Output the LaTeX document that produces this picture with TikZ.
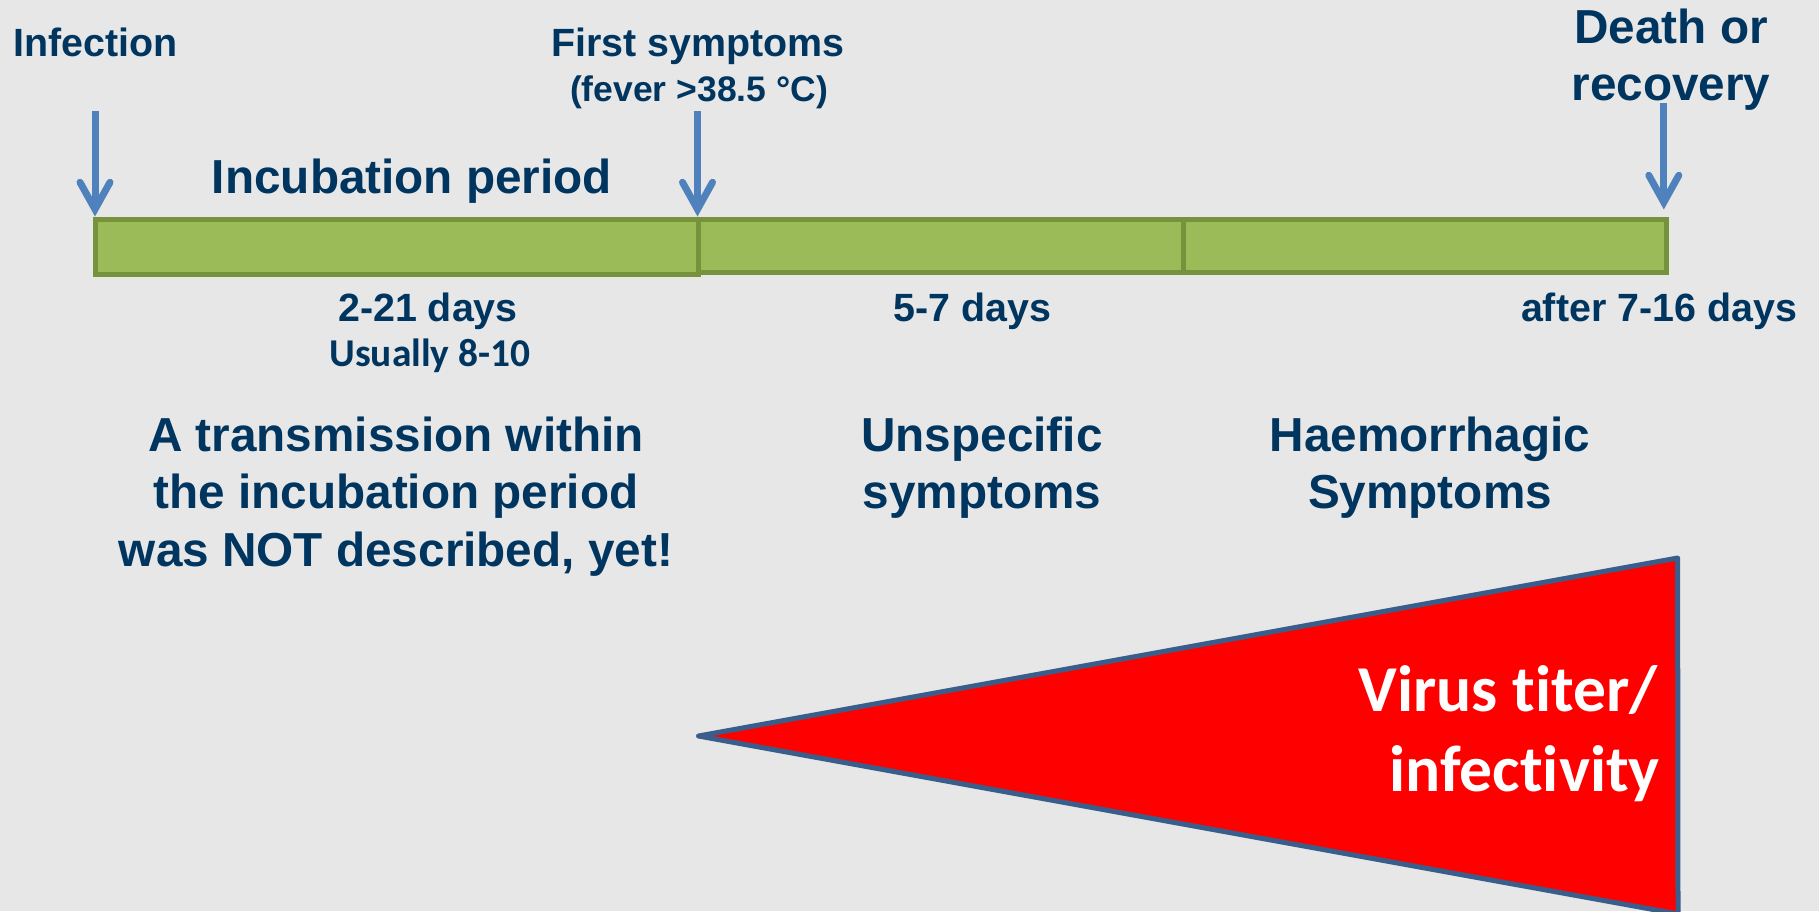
\documentclass[tikz,border=0pt]{standalone}
\usepackage{fontspec}
\setmainfont{Liberation Sans}
\newfontfamily\carlitofont{Carlito}[Ligatures={NoCommon,NoRare,NoDiscretionary}]
\usetikzlibrary{arrows.meta}
\definecolor{bgcol}{HTML}{E7E7E7}
\definecolor{txtcol}{HTML}{00355F}
\definecolor{barfill}{HTML}{9BBB59}
\definecolor{barline}{HTML}{76923C}
\definecolor{arrcol}{HTML}{4F81BD}
\definecolor{triline}{HTML}{3A5E8C}
\definecolor{trifill}{HTML}{FF0000}
\tikzset{
  lbl/.style={inner sep=0pt, anchor=base, text=txtcol, font=\bfseries\fontsize{39.4}{47}\selectfont},
  biglbl/.style={lbl, font=\bfseries\fontsize{47.7}{57}\selectfont},
  feverlbl/.style={lbl, font=\bfseries\fontsize{35.5}{42}\selectfont},
  callbl/.style={lbl, font=\carlitofont\bfseries\fontsize{39.4}{47}\selectfont},
  viruslbl/.style={inner sep=0pt, anchor=base east, text=white, font=\carlitofont\bfseries\fontsize{65.5}{78}\selectfont},
  barseg/.style={draw=barline, fill=barfill, line width=5pt, minimum height=53pt, inner sep=0pt, anchor=west},
  timearrow/.style={draw=arrcol, line width=7pt, -{Straight Barb[length=27pt,width=30pt,line cap=round]}},
}
\begin{document}
\begin{tikzpicture}[x=1pt,y=-1pt]
\useasboundingbox (0,0) rectangle (1819,911);
\fill[bgcol] (0,0) rectangle (1819,911);

% timeline bar
\node[barseg, minimum width=603.5pt, minimum height=55pt] (seg1) at (92.5,246.5) {};
\node[barseg, minimum width=485pt] (seg2) at (696,245.5) {};
\node[barseg, minimum width=482.5pt] (seg3) at (1181,245.5) {};

% arrow start points
\coordinate (infA) at (95,111);
\coordinate (fsA) at (697.5,111);
\coordinate (drA) at (1663.8,103);
\draw[timearrow] (infA) -- (infA |- seg1.north);
\draw[timearrow] (fsA) -- (fsA |- seg2.north);
\draw[timearrow, shorten >=7pt] (drA) -- (drA |- seg3.north);

% top labels
\node[lbl] (infection) at (95.3,56.7) {Infection};
\node[lbl] (firstsym) at (698,56) {First symptoms};
\node[feverlbl] (fever) at (699,101.5) {(fever >38.5 °C)};
\node[biglbl] (death) at (1671,43.3) {Death or};
\node[biglbl] (recovery) at (1671,100) {recovery};
\node[biglbl] (incub) at (412,193.3) {Incubation period};

% durations
\node[lbl] (d1) at (428,321.7) {2-21 days};
\node[callbl] (usually) at (430,366.5) {Usually 8-10};
\node[lbl] (d2) at (972.5,321.7) {5-7 days};
\node[lbl] (d3) at (1659,321.7) {after 7-16 days};

% phase descriptions
\node[biglbl] (tr1) at (396,451) {A transmission within};
\node[biglbl] (tr2) at (396,508) {the incubation period};
\node[biglbl] (tr3) at (396,566.5) {was NOT described, yet!};
\node[biglbl] (un1) at (982,451) {Unspecific};
\node[biglbl] (un2) at (982,508) {symptoms};
\node[biglbl] (ha1) at (1430,451) {Haemorrhagic};
\node[biglbl] (ha2) at (1430,508) {Symptoms};

% virus titer wedge
\filldraw[fill=trifill, draw=triline, line width=5pt, line join=round]
  (698.5,736) -- (1677.6,558) -- (1678,914) -- cycle;
\node[viruslbl] (virus1) at (1658,711.7) {Virus titer/};
\node[viruslbl] (virus2) at (1660,791.7) {infectivity};
\end{tikzpicture}
\end{document}
